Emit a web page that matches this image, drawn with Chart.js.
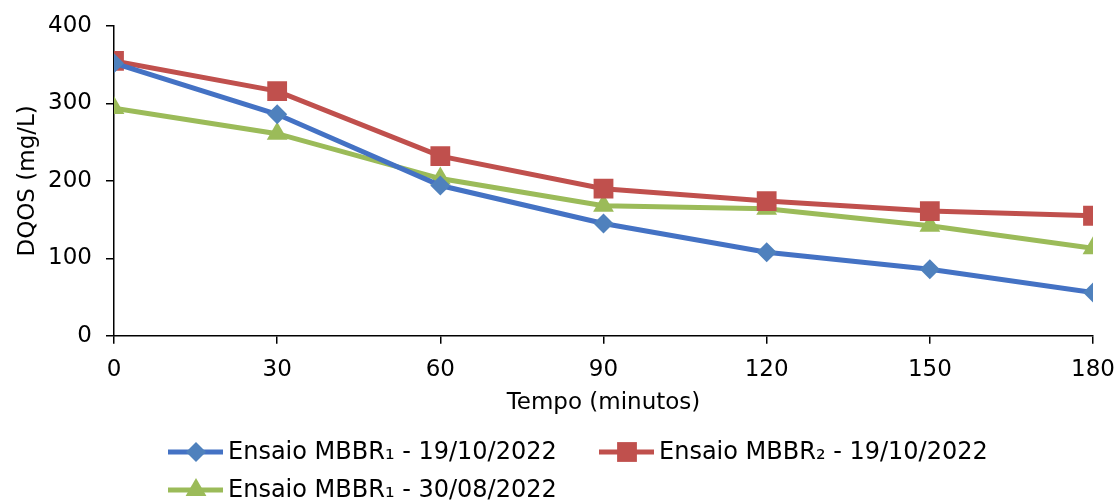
<!DOCTYPE html>
<html>
<head>
<meta charset="utf-8">
<script src="https://cdn.jsdelivr.net/npm/chart.js@4.4.1/dist/chart.umd.min.js"></script>
<style>
    body { margin: 0; background: #fff; }
    #wrap { width: 1117px; height: 502px; }
</style>
</head>
<body>
<div id="wrap"><canvas id="dqosChart" width="1117" height="502"></canvas></div>
<script>
// Tempo (minutos)
const tempo = [0, 30, 60, 90, 120, 150, 180];

// DQOS (mg/L)
const mbbr1_1910 = [352, 286, 194, 145, 108, 86, 56];
const mbbr2_1910 = [355, 316, 232, 190, 174, 161, 155];
const mbbr1_3008 = [294, 261, 203, 168, 164, 142, 113];

const seriesLabels = [
    'Ensaio MBBR\u2081 - 19/10/2022',
    'Ensaio MBBR\u2082 - 19/10/2022',
    'Ensaio MBBR\u2081 - 30/08/2022'
];

const FONT = '"DejaVu Sans", sans-serif';

function toPoints(values) {
    return tempo.map((t, i) => ({ x: t, y: values[i] }));
}

// legend drawn by hand: Excel puts the 3rd item left-aligned under the 1st
const legendSlots = [
    { x: 168, y: 452 },
    { x: 599, y: 452 },
    { x: 168, y: 490 }
];

const excelLegend = {
    id: 'excelLegend',
    afterDraw(chart) {
        const ctx = chart.ctx;
        chart.data.datasets.forEach((ds, i) => {
            const slot = legendSlots[i];
            ctx.save();
            ctx.strokeStyle = ds.borderColor;
            ctx.lineWidth = ds.borderWidth;
            ctx.beginPath();
            ctx.moveTo(slot.x, slot.y);
            ctx.lineTo(slot.x + 55, slot.y);
            ctx.stroke();
            ctx.fillStyle = ds.pointBackgroundColor;
            Chart.helpers.drawPoint(ctx, {
                pointStyle: ds.pointStyle,
                radius: ds.pointRadius,
                rotation: 0,
                borderWidth: 0
            }, slot.x + 28, slot.y);
            ctx.fillStyle = '#000';
            ctx.font = '24px ' + FONT;
            ctx.textBaseline = 'middle';
            ctx.fillText(ds.label, slot.x + 60, slot.y + 1);
            ctx.restore();
        });
    }
};

const ctx = document.getElementById('dqosChart').getContext('2d');

new Chart(ctx, {
    type: 'line',
    data: {
        datasets: [
            {
                label: seriesLabels[0],
                data: toPoints(mbbr1_1910),
                borderColor: '#4472C4',
                backgroundColor: '#4F81BD',
                pointBackgroundColor: '#4F81BD',
                pointBorderWidth: 0,
                borderWidth: 5,
                pointStyle: 'rectRot',
                pointRadius: 10
            },
            {
                label: seriesLabels[1],
                data: toPoints(mbbr2_1910),
                borderColor: '#C0504D',
                backgroundColor: '#C0504D',
                pointBackgroundColor: '#C0504D',
                pointBorderWidth: 0,
                borderWidth: 5,
                pointStyle: 'rect',
                pointRadius: 14
            },
            {
                label: seriesLabels[2],
                data: toPoints(mbbr1_3008),
                borderColor: '#9BBB59',
                backgroundColor: '#9BBB59',
                pointBackgroundColor: '#9BBB59',
                pointBorderWidth: 0,
                borderWidth: 5,
                pointStyle: 'triangle',
                pointRadius: 12
            }
        ]
    },
    options: {
        responsive: false,
        animation: false,
        layout: { padding: { left: 0, right: 24, top: 26, bottom: 79 } },
        plugins: {
            legend: { display: false },
            tooltip: { enabled: false }
        },
        scales: {
            x: {
                type: 'linear',
                min: 0,
                max: 180,
                afterFit: (scale) => { scale.paddingLeft = 0; scale.paddingRight = 0; },
                ticks: { stepSize: 30, color: '#000', font: { family: FONT, size: 23 }, padding: 12 },
                grid: { drawOnChartArea: false, color: '#000', tickLength: 8, lineWidth: 1.5 },
                border: { color: '#000', width: 1.5 },
                title: { display: true, text: 'Tempo (minutos)', color: '#000', font: { family: FONT, size: 23 }, padding: { top: -6, bottom: 6 } }
            },
            y: {
                min: 0,
                max: 400,
                afterFit: (scale) => { scale.width = 114; scale.paddingTop = 0; scale.paddingBottom = 0; },
                ticks: { stepSize: 100, color: '#000', font: { family: FONT, size: 23 }, padding: 14 },
                grid: { drawOnChartArea: false, color: '#000', tickLength: 8, lineWidth: 1.5 },
                border: { color: '#000', width: 1.5 },
                title: { display: true, text: 'DQOS (mg/L)', color: '#000', font: { family: FONT, size: 23 }, padding: { top: 14 } }
            }
        }
    },
    plugins: [excelLegend]
});
</script>
</body>
</html>
